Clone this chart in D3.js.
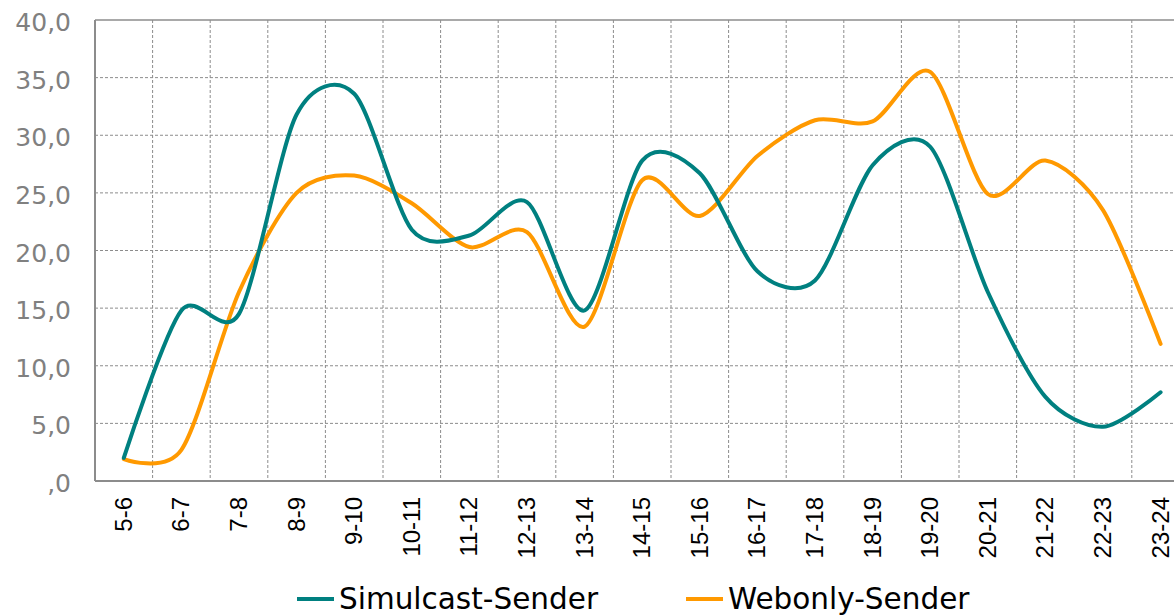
<!DOCTYPE html>
<html>
<meta charset = "utf-8" />
<title>Simulcast vs Webonly</title>
<head>
    <script src="https://d3js.org/d3.v7.min.js"></script>
    <style>
        body { margin: 0; background: #fff; }
    </style>
</head>
<body>
    <div id = "chart"></div>

    <script type = "text/javascript">
        // hour slots on the x axis
        var categories = ["5-6", "6-7", "7-8", "8-9", "9-10", "10-11", "11-12", "12-13",
            "13-14", "14-15", "15-16", "16-17", "17-18", "18-19", "19-20", "20-21",
            "21-22", "22-23", "23-24"];

        var simulcast = [2.0, 14.8, 14.5, 31.8, 33.6, 21.8, 21.3, 24.2, 14.8, 27.8,
            26.7, 18.2, 17.4, 27.4, 29.0, 16.4, 7.3, 4.7, 7.7];
        var webonly = [1.9, 2.7, 16.4, 25.0, 26.5, 24.1, 20.3, 21.6, 13.4, 26.1,
            23.0, 28.2, 31.3, 31.2, 35.5, 24.9, 27.8, 23.5, 11.9];

        var yTicks = [0, 5, 10, 15, 20, 25, 30, 35, 40];
        var seriesNames = ["Simulcast-Sender", "Webonly-Sender"];

        const chartW = 1174, chartH = 616,
            plotLeft = 95, plotTop = 20, plotBottom = 481,
            step = 57.6;   // the last band runs past the right edge, like the original
        var teal = "#008080", orange = "#ff9900", gridColor = "#8c8c8c";

        var svg = d3.select("#chart").append("svg")
            .attr("width", chartW)
            .attr("height", chartH)
            .style("font-family", "'DejaVu Sans', Verdana, sans-serif");

        var x = d3.scaleBand()
            .domain(categories)
            .range([plotLeft, plotLeft + step * categories.length])
            .padding(0);
        var y = d3.scaleLinear().domain([0, 40]).range([plotBottom, plotTop]);

        // horizontal grid
        svg.append("g").selectAll("line")
            .data(yTicks.filter(function(d) { return d > 0 && d < 40; }))
            .enter().append("line")
            .attr("x1", plotLeft).attr("x2", chartW)
            .attr("y1", function(d) { return y(d); })
            .attr("y2", function(d) { return y(d); })
            .attr("stroke", gridColor)
            .attr("stroke-width", 1)
            .attr("stroke-dasharray", "3,2");

        // vertical grid between categories
        svg.append("g").selectAll("line")
            .data(categories.slice(1))
            .enter().append("line")
            .attr("x1", function(d) { return x(d); })
            .attr("x2", function(d) { return x(d); })
            .attr("y1", plotTop).attr("y2", plotBottom)
            .attr("stroke", gridColor)
            .attr("stroke-width", 1)
            .attr("stroke-dasharray", "3,2");

        // frame: top, left, bottom
        svg.append("line")
            .attr("x1", plotLeft).attr("x2", chartW)
            .attr("y1", y(40)).attr("y2", y(40))
            .attr("stroke", gridColor).attr("stroke-width", 1.5);
        svg.append("line")
            .attr("x1", plotLeft).attr("x2", plotLeft)
            .attr("y1", plotTop).attr("y2", plotBottom)
            .attr("stroke", gridColor).attr("stroke-width", 2);
        svg.append("line")
            .attr("x1", plotLeft).attr("x2", chartW)
            .attr("y1", plotBottom).attr("y2", plotBottom)
            .attr("stroke", gridColor).attr("stroke-width", 2);

        // y labels, german decimal comma, zero written as ",0"
        svg.append("g").selectAll("text")
            .data(yTicks)
            .enter().append("text")
            .attr("x", 71)
            .attr("y", function(d) { return y(d) + 2; })
            .attr("dy", "0.36em")
            .attr("text-anchor", "end")
            .attr("fill", "#808080")
            .style("font-size", "25px")
            .text(function(d) { return d === 0 ? ",0" : d.toFixed(1).replace(".", ","); });

        // x labels, rotated
        svg.append("g").selectAll("text")
            .data(categories)
            .enter().append("text")
            .attr("transform", function(d) {
                return "translate(" + (x(d) + x.bandwidth() / 2) + ",497) rotate(-90)";
            })
            .attr("dy", "0.33em")
            .attr("text-anchor", "end")
            .attr("fill", "#000")
            .style("font-family", "'Liberation Sans', Arial, sans-serif")
            .style("font-size", "24px")
            .text(function(d) { return d; });

        // smoothed lines, Excel style (a little tension keeps the overshoot down)
        var line = d3.line()
            .x(function(d, i) { return x(categories[i]) + x.bandwidth() / 2; })
            .y(function(d) { return y(d); })
            .curve(d3.curveCardinal.tension(0.15));

        svg.append("path")
            .datum(webonly)
            .attr("d", line)
            .attr("fill", "none")
            .attr("stroke", orange)
            .attr("stroke-width", 4)
            .attr("stroke-linecap", "round");
        svg.append("path")
            .datum(simulcast)
            .attr("d", line)
            .attr("fill", "none")
            .attr("stroke", teal)
            .attr("stroke-width", 4)
            .attr("stroke-linecap", "round");

        // legend
        var legendX = [297, 686];
        var legendColors = [teal, orange];
        var legend = svg.append("g").selectAll("g")
            .data(seriesNames)
            .enter().append("g")
            .attr("transform", function(d, i) { return "translate(" + legendX[i] + ",0)"; });
        legend.append("line")
            .attr("x1", 0).attr("x2", 37)
            .attr("y1", 599).attr("y2", 599)
            .attr("stroke", function(d, i) { return legendColors[i]; })
            .attr("stroke-width", 4);
        legend.append("text")
            .attr("x", 42)
            .attr("y", 609)
            .attr("fill", "#000")
            .style("font-size", "29.5px")
            .text(function(d) { return d; });
    </script>
</body>
</html>
